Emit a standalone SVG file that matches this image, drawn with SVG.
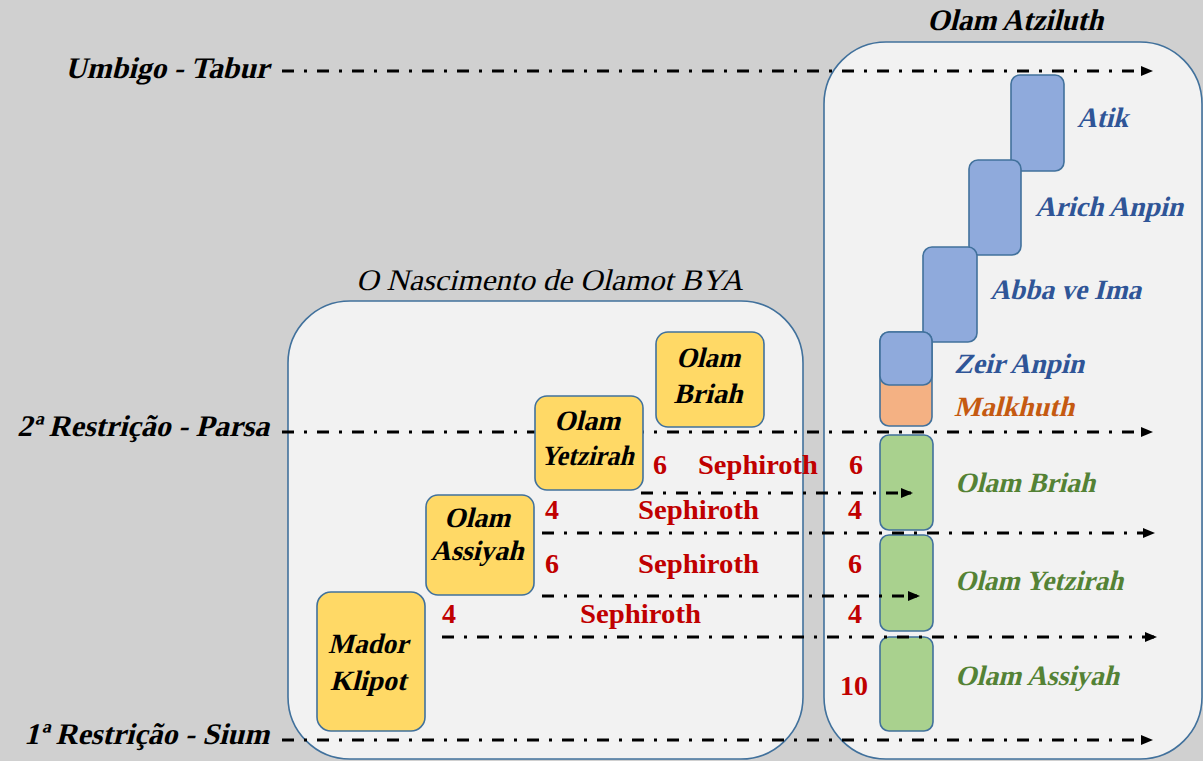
<svg xmlns="http://www.w3.org/2000/svg" width="1203" height="761" viewBox="0 0 1203 761">
<defs>
<style>
.panel{fill:#f2f2f2;stroke:#41719c;stroke-width:1.6}
.blue{fill:#8faadc;stroke:#41719c;stroke-width:1.6}
.orange{fill:#f4b183;stroke:#41719c;stroke-width:1.6}
.green{fill:#a9d18e;stroke:#41719c;stroke-width:1.6}
.yellow{fill:#ffd966;stroke:#41719c;stroke-width:1.6}
.dd{fill:none;stroke:#000;stroke-width:3;stroke-dasharray:12 10 3 10;marker-end:url(#arr)}
.bi{font-family:"Liberation Serif","Times New Roman",serif;font-weight:bold}
.it{font-family:"Liberation Serif","Times New Roman",serif;font-weight:normal}
.lab{font-size:30px;fill:#000}
.box{font-size:28px;fill:#000;text-anchor:middle}
.bt{font-size:28px;fill:#2f5597}
.ot{font-size:28px;fill:#c55a11}
.gt{font-size:28px;fill:#548235}
.red{font-family:"Liberation Serif","Times New Roman",serif;font-weight:bold;font-size:28px;fill:#c00000}
</style>
<marker id="arr" markerUnits="userSpaceOnUse" markerWidth="13" markerHeight="11" refX="12" refY="5.5" orient="auto">
<path d="M0,0.5 L12,5.5 L0,10.5 z" fill="#000"/>
</marker>
</defs>
<rect x="0" y="0" width="1203" height="761" fill="#d0d0d0"/>

<g id="panel-atziluth">
<rect class="panel" x="824" y="42" width="378" height="717" rx="62"/>
<text class="bi lab" transform="translate(927,30) skewX(-14)" textLength="176" lengthAdjust="spacingAndGlyphs">Olam Atziluth</text>
</g>
<g id="panel-bya">
<rect class="panel" x="288" y="301" width="515" height="458" rx="62"/>
<text class="it lab" transform="translate(356,290) skewX(-14)" textLength="387" lengthAdjust="spacingAndGlyphs">O Nascimento de Olamot BYA</text>
</g>

<g id="atik"><rect class="blue" x="1011" y="75" width="53" height="96" rx="9"/><text class="bi bt" transform="translate(1077,127) skewX(-14)" textLength="51" lengthAdjust="spacingAndGlyphs">Atik</text></g>
<g id="arich-anpin"><rect class="blue" x="969" y="160" width="52" height="95" rx="9"/><text class="bi bt" transform="translate(1035,216) skewX(-14)" textLength="148" lengthAdjust="spacingAndGlyphs">Arich Anpin</text></g>
<g id="abba-ve-ima"><rect class="blue" x="923" y="247" width="54" height="95" rx="9"/><text class="bi bt" transform="translate(990,299) skewX(-14)" textLength="151" lengthAdjust="spacingAndGlyphs">Abba ve Ima</text></g>
<g id="zeir-anpin">
<rect class="orange" x="880" y="332" width="52" height="94" rx="9"/>
<rect class="blue" x="880" y="332" width="52" height="53" rx="9"/>
<text class="bi bt" transform="translate(954,373) skewX(-14)" textLength="130" lengthAdjust="spacingAndGlyphs">Zeir Anpin</text>
<text class="bi ot" transform="translate(954,416) skewX(-14)" textLength="120" lengthAdjust="spacingAndGlyphs">Malkhuth</text>
</g>
<g id="green-briah"><rect class="green" x="880" y="435" width="53" height="95" rx="9"/><text class="bi gt" transform="translate(955,492) skewX(-14)" textLength="140" lengthAdjust="spacingAndGlyphs">Olam Briah</text></g>
<g id="green-yetzirah"><rect class="green" x="880" y="535" width="53" height="96" rx="9"/><text class="bi gt" transform="translate(955,590) skewX(-14)" textLength="168" lengthAdjust="spacingAndGlyphs">Olam Yetzirah</text></g>
<g id="green-assiyah"><rect class="green" x="880" y="637" width="53" height="94" rx="9"/><text class="bi gt" transform="translate(955,685) skewX(-14)" textLength="164" lengthAdjust="spacingAndGlyphs">Olam Assiyah</text></g>

<g id="connectors">
<path class="dd" d="M282,71 H1153"/>
<path class="dd" d="M282,432 H1153"/>
<path class="dd" d="M641,493 H913"/>
<path class="dd" d="M542,533 H1155"/>
<path class="dd" d="M542,596 H920"/>
<path class="dd" d="M442,637 H1157"/>
<path class="dd" d="M282,740 H1153"/>
</g>

<g id="yellow-briah"><rect class="yellow" x="656" y="332" width="108" height="95" rx="12"/>
<text class="bi box" transform="translate(708,367) skewX(-14)" textLength="64" lengthAdjust="spacingAndGlyphs">Olam</text>
<text class="bi box" transform="translate(708,403) skewX(-14)" textLength="69" lengthAdjust="spacingAndGlyphs">Briah</text></g>
<g id="yellow-yetzirah"><rect class="yellow" x="535" y="396" width="108" height="94" rx="12"/>
<text class="bi box" transform="translate(587,430) skewX(-14)" textLength="66" lengthAdjust="spacingAndGlyphs">Olam</text>
<text class="bi box" transform="translate(587,465) skewX(-14)" textLength="93" lengthAdjust="spacingAndGlyphs">Yetzirah</text></g>
<g id="yellow-assiyah"><rect class="yellow" x="426" y="495" width="108" height="100" rx="12"/>
<text class="bi box" transform="translate(477,527) skewX(-14)" textLength="66" lengthAdjust="spacingAndGlyphs">Olam</text>
<text class="bi box" transform="translate(477,560) skewX(-14)" textLength="93" lengthAdjust="spacingAndGlyphs">Assiyah</text></g>
<g id="mador-klipot"><rect class="yellow" x="317" y="592" width="108" height="139" rx="14"/>
<text class="bi box" transform="translate(368,653) skewX(-14)" textLength="80" lengthAdjust="spacingAndGlyphs">Mador</text>
<text class="bi box" transform="translate(368,690) skewX(-14)" textLength="76" lengthAdjust="spacingAndGlyphs">Klipot</text></g>

<g id="labels">
<text class="bi lab" transform="translate(65,78) skewX(-14)" textLength="204" lengthAdjust="spacingAndGlyphs">Umbigo - Tabur</text>
<text class="bi lab" transform="translate(17,436) skewX(-14)" textLength="252" lengthAdjust="spacingAndGlyphs">2ª Restrição - Parsa</text>
<text class="bi lab" transform="translate(24,744) skewX(-14)" textLength="245" lengthAdjust="spacingAndGlyphs">1ª Restrição - Sium</text>
</g>

<g id="sephiroth">
<text class="red" x="653" y="474">6</text><text class="red" x="698" y="474" textLength="120" lengthAdjust="spacingAndGlyphs">Sephiroth</text><text class="red" x="849" y="474">6</text>
<text class="red" x="545" y="519">4</text><text class="red" x="638" y="519" textLength="121" lengthAdjust="spacingAndGlyphs">Sephiroth</text><text class="red" x="848" y="519">4</text>
<text class="red" x="545" y="573">6</text><text class="red" x="638" y="573" textLength="121" lengthAdjust="spacingAndGlyphs">Sephiroth</text><text class="red" x="848" y="573">6</text>
<text class="red" x="442" y="623">4</text><text class="red" x="580" y="623" textLength="121" lengthAdjust="spacingAndGlyphs">Sephiroth</text><text class="red" x="848" y="623">4</text>
<text class="red" x="840" y="695">10</text>
</g>
</svg>
